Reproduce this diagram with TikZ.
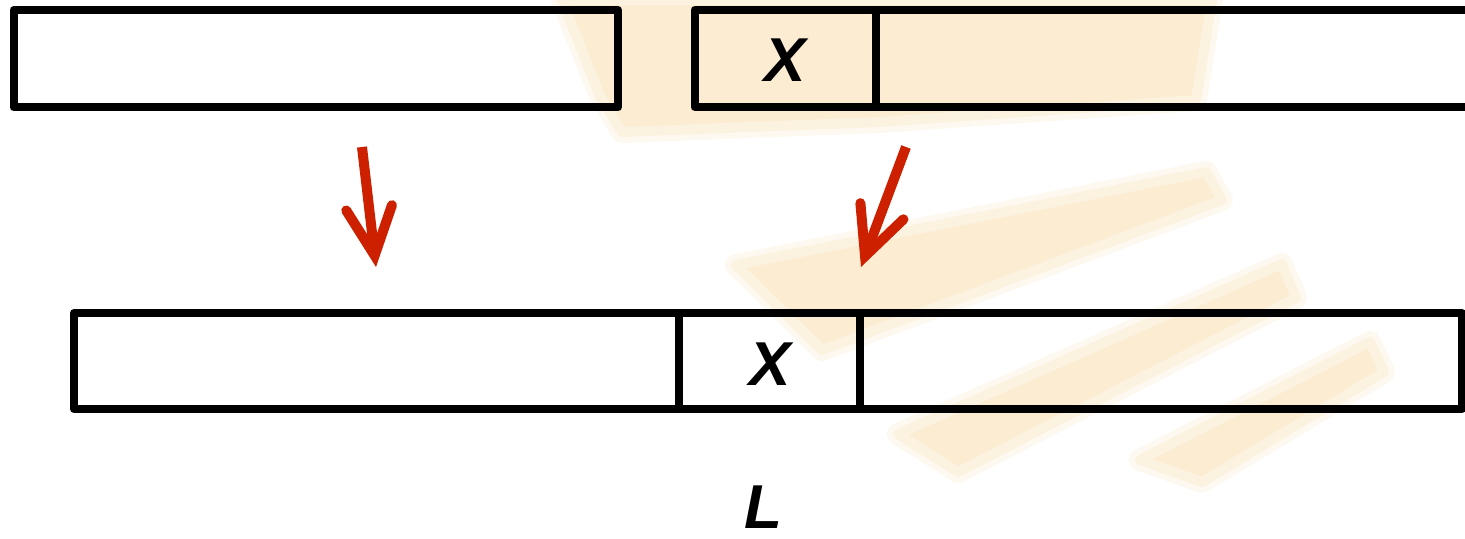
\documentclass[tikz,border=0pt]{standalone}
\usepackage{fontspec}
\setmainfont{Liberation Sans}
\usetikzlibrary{arrows.meta}

\definecolor{arrowred}{RGB}{204,32,0}
\definecolor{wmark}{RGB}{251,236,210}
\definecolor{wmarkmid}{RGB}{252,242,224}
\definecolor{wmarkedge}{RGB}{254,249,240}

\begin{document}
\begin{tikzpicture}[x=0.5pt,y=-0.5pt,
    box/.style={draw=black, line width=4pt, line join=round},
    lbl/.style={inner sep=0pt, font=\fontsize{31}{31}\selectfont\bfseries\itshape},
    shade/.style={fill=wmark, draw=wmarkmid, line width=5pt, line join=round,
        preaction={draw=wmarkedge, line width=11pt, line join=round}},
    move/.style={draw=arrowred, line width=5pt,
        -{Straight Barb[length=24pt, width=23pt, line width=5pt, line cap=round, line join=miter]}}]
        \useasboundingbox (0,0) rectangle (1465,539);

        % Watermark in the background
        \filldraw[shade] (562,0) -- (1212,0) -- (1196,100) -- (880,122) -- (622,132) -- (600,96) -- cycle;
        \filldraw[shade] (736,265) -- (1206,172) -- (1222,200) -- (822,350) -- cycle;
        \filldraw[shade] (898,434) -- (1282,264) -- (1296,298) -- (958,472) -- cycle;
        \filldraw[shade] (1140,460) -- (1370,342) -- (1384,372) -- (1202,482) -- cycle;

        % Top row
        \draw[box] (13.5,10) rectangle (618,107.5);
        \draw[box] (694.5,10) rectangle (1480,107);
        \draw[box] (876,10) -- (876,107);
        \node[lbl] (topx) at (785,60) {X};

        % Bottom row
        \draw[box] (74,313) rectangle (1462,409);
        \draw[box] (679,313) -- (679,409);
        \draw[box] (860,313) -- (860,409);
        \node[lbl] (botx) at (770,364) {X};

        % Moves
        \coordinate (lfrom) at (362,147);
        \coordinate (lto) at (376,267);
        \coordinate (rfrom) at (906,147);
        \coordinate (rto) at (861,267);
        \draw[move] (lfrom) -- (lto);
        \draw[move] (rfrom) -- (rto);

        % Length label
        \node[lbl] (lenL) at (763,507) {L};
    \end{tikzpicture}
\end{document}
